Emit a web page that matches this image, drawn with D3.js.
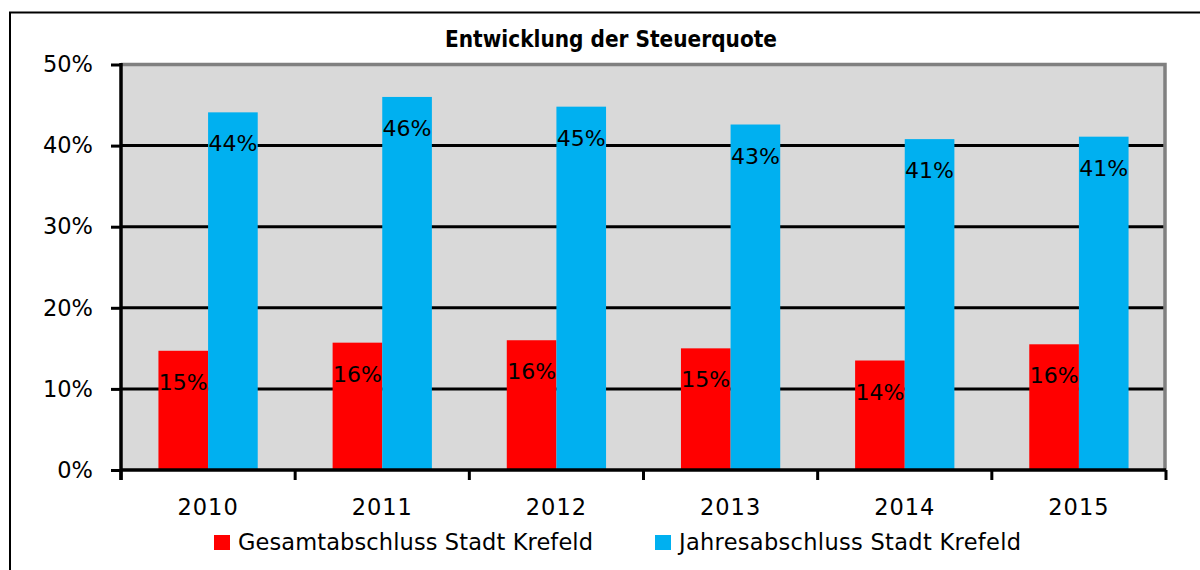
<!DOCTYPE html>
<html>
<head>
<meta charset="utf-8">
<script src="https://cdn.jsdelivr.net/npm/d3@7"></script>
<style>
  body { margin: 0; background: #fff; }
  svg { display: block; font-family: "DejaVu Sans", Verdana, sans-serif; }
</style>
</head>
<body>
<svg width="1200" height="570"></svg>
<script>
// chart data
var years = ['2010', '2011', '2012', '2013', '2014', '2015']
var gesamt = [0.147, 0.157, 0.160, 0.150, 0.135, 0.155]
var jahres = [0.441, 0.460, 0.448, 0.426, 0.408, 0.411]
var seriesNames = ['Gesamtabschluss Stadt Krefeld', 'Jahresabschluss Stadt Krefeld']
var seriesColors = ['#ff0000', '#00b0f0']
var yTicks = [0, 0.1, 0.2, 0.3, 0.4, 0.5]

var svg = d3.select('svg')

// plot box (note: "top" clashes with window.top, so use plot* names)
var plotLeft = 121, plotRight = 1166, plotTop = 64.5, plotBottom = 470

var x = d3.scaleBand().domain(years).range([plotLeft, plotRight])
var y = d3.scaleLinear().domain([0, 0.5]).range([plotBottom, plotTop])
var barW = x.bandwidth() * 0.285

// outer frame
svg.append('rect')
  .attr('x', 10).attr('y', 12.5)
  .attr('width', 1250).attr('height', 620)
  .attr('fill', 'none').attr('stroke', '#000').attr('stroke-width', 2)

// title
svg.append('text')
  .attr('x', 611).attr('y', 47)
  .attr('text-anchor', 'middle')
  .attr('font-weight', 'bold')
  .attr('font-size', 23)
  .attr('textLength', 332)
  .attr('lengthAdjust', 'spacingAndGlyphs')
  .text('Entwicklung der Steuerquote')

// plot background
svg.append('rect')
  .attr('x', plotLeft).attr('y', plotTop)
  .attr('width', plotRight - plotLeft).attr('height', plotBottom - plotTop)
  .attr('fill', '#d9d9d9')

// gridlines
svg.append('g')
  .selectAll('line')
  .data(yTicks.filter(t => t > 0 && t < 0.5))
  .enter().append('line')
  .attr('x1', plotLeft).attr('x2', plotRight)
  .attr('y1', d => y(d)).attr('y2', d => y(d))
  .attr('stroke', '#000').attr('stroke-width', 3)

// gray top / right wall edge
svg.append('path')
  .attr('d', 'M' + plotLeft + ',' + y(0.5) + 'H' + (plotRight - 1) + 'V' + plotBottom)
  .attr('fill', 'none').attr('stroke', '#808080').attr('stroke-width', 3.5)

// bars
var groups = svg.append('g').selectAll('g')
  .data(years)
  .enter().append('g')
  .attr('transform', d => 'translate(' + (x(d) + x.bandwidth() / 2) + ',0)')

var series = [gesamt, jahres]
series.forEach((vals, s) => {
  groups.append('rect')
    .attr('x', s === 0 ? -barW : 0)
    .attr('width', barW)
    .attr('y', (d, i) => y(vals[i]))
    .attr('height', (d, i) => y(0) - y(vals[i]))
    .attr('fill', seriesColors[s])

  groups.append('text')
    .attr('x', s === 0 ? -barW / 2 : barW / 2)
    .attr('y', (d, i) => y(vals[i]) + 39)
    .attr('text-anchor', 'middle')
    .attr('font-size', 22)
    .attr('fill', '#000')
    .text((d, i) => d3.format('.0%')(vals[i]))
})

// y axis
var yAxis = svg.append('g')
  .attr('transform', 'translate(' + plotLeft + ',0)')
  .call(d3.axisLeft(y).tickValues(yTicks).tickFormat(d3.format('.0%')).tickSize(10).tickPadding(18))
yAxis.select('.domain').remove()
yAxis.selectAll('.tick line').attr('stroke', '#000').attr('stroke-width', 3)
yAxis.selectAll('text').attr('font-size', 22.5).attr('font-family', '"DejaVu Sans", sans-serif').attr('fill', '#000')
yAxis.append('line')
  .attr('x1', 0).attr('x2', 0)
  .attr('y1', plotTop - 1.5).attr('y2', plotBottom + 10)
  .attr('stroke', '#000').attr('stroke-width', 3.5)

// x axis
var xAxis = svg.append('g')
  .attr('transform', 'translate(0,' + plotBottom + ')')
  .call(d3.axisBottom(x).tickSize(0).tickPadding(29))
xAxis.select('.domain').remove()
xAxis.selectAll('text')
  .attr('font-size', 22.5)
  .attr('font-family', '"DejaVu Sans", sans-serif')
  .attr('letter-spacing', 1)
  .attr('fill', '#000')
xAxis.append('line')
  .attr('x1', plotLeft).attr('x2', plotRight)
  .attr('stroke', '#000').attr('stroke-width', 3.5)
xAxis.selectAll('.sep')
  .data(years.map(d => x(d)).concat([x(years[years.length - 1]) + x.bandwidth()]))
  .enter().append('line')
  .attr('class', 'sep')
  .attr('x1', d => d).attr('x2', d => d)
  .attr('y1', 0).attr('y2', 10)
  .attr('stroke', '#000').attr('stroke-width', 3)

// legend
var legendX = [214, 655]
var legendLen = [355, 342]
var legend = svg.append('g').selectAll('g')
  .data(seriesNames)
  .enter().append('g')
  .attr('transform', (d, i) => 'translate(' + legendX[i] + ',535)')
legend.append('rect')
  .attr('width', 16).attr('height', 15)
  .attr('fill', (d, i) => seriesColors[i])
legend.append('text')
  .attr('x', 24).attr('y', 15)
  .attr('font-size', 22.5)
  .attr('textLength', (d, i) => legendLen[i])
  .attr('lengthAdjust', 'spacing')
  .text(d => d)
</script>
</body>
</html>
